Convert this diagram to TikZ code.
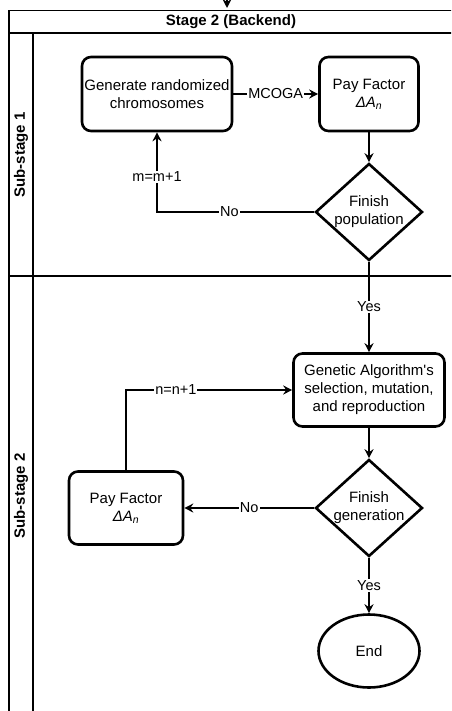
\documentclass[tikz,border=0pt]{standalone}
\usepackage{fontspec}
\setmainfont{Liberation Sans}
\usetikzlibrary{shapes.geometric, arrows.meta, positioning}

\begin{document}
\begin{tikzpicture}[x=1pt, y=-1pt,
  every node/.style={font=\fontsize{15}{18}\selectfont, align=center},
  procbox/.style={draw, line width=2.6pt, rounded corners=9pt, inner sep=2pt},
  decision/.style={draw, diamond, line width=2.6pt, aspect=1.1, inner sep=0pt, minimum width=107pt, minimum height=97pt},
  terminal/.style={draw, ellipse, line width=2.6pt, minimum width=101pt, minimum height=73pt},
  flow/.style={line width=1.6pt, -{Stealth[length=9pt,width=9pt,inset=3pt]}},
  lbl/.style={fill=white, inner sep=1pt, font=\fontsize{14.5}{17}\selectfont},
  lanetitle/.style={font=\bfseries\fontsize{15}{18}\selectfont},
  lane/.style={line width=1.8pt}
]
\clip (0,0) rectangle (451,711);

% Pool and lanes
\draw[lane] (9,10.5) rectangle (470,730);
\draw[lane] (9,33) -- (470,33);
\draw[lane] (33,33) -- (33,730);
\draw[lane] (9,276) -- (470,276);
\node[lanetitle] (stage) at (231,22) {Stage 2 (Backend)};
\node[lanetitle, rotate=90] (sub1) at (21,155) {Sub-stage 1};
\node[lanetitle, rotate=90] (sub2) at (21,496) {Sub-stage 2};

% Incoming arrow
\coordinate (src) at (227,-15);
\coordinate (stagetop) at (227,8);
\draw[flow] (src) -- (stagetop);

% Sub-stage 1
\node[procbox, minimum width=150pt, minimum height=74pt] (gen) at (157,94) {Generate randomized\\chromosomes};
\node[procbox, minimum width=99pt, minimum height=74pt] (pay1) at (369,94) {Pay Factor\\{\itshape ΔA\textsubscript{n}}};
\node[decision] (fpop) at (369,212) {Finish\\population};

% Sub-stage 2
\node[procbox, minimum width=151pt, minimum height=73pt] (ga) at (369,390) {Genetic Algorithm\textquotesingle s\\selection, mutation,\\and reproduction};
\node[procbox, minimum width=114pt, minimum height=73pt] (pay2) at (126,508) {Pay Factor\\{\itshape ΔA\textsubscript{n}}};
\node[decision] (fgen) at (369,508) {Finish\\generation};
\node[terminal] (end) at (369,651) {End};

% Connectors
\draw[flow] (gen) -- node[lbl] {MCOGA} (pay1);
\draw[flow] (pay1) -- (fpop);
\draw[flow] (fpop.west) -| node[lbl, pos=0.27] {No} node[lbl, pos=0.72] {m=m+1} (gen.south);
\draw[flow] (fpop) -- node[lbl] {Yes} (ga);
\draw[flow] (ga) -- (fgen);
\draw[flow] (fgen) -- node[lbl] {No} (pay2);
\draw[flow] (pay2.north) |- node[lbl, pos=0.65] {n=n+1} (ga.west);
\draw[flow] (fgen) -- node[lbl] {Yes} (end);
\end{tikzpicture}
\end{document}
